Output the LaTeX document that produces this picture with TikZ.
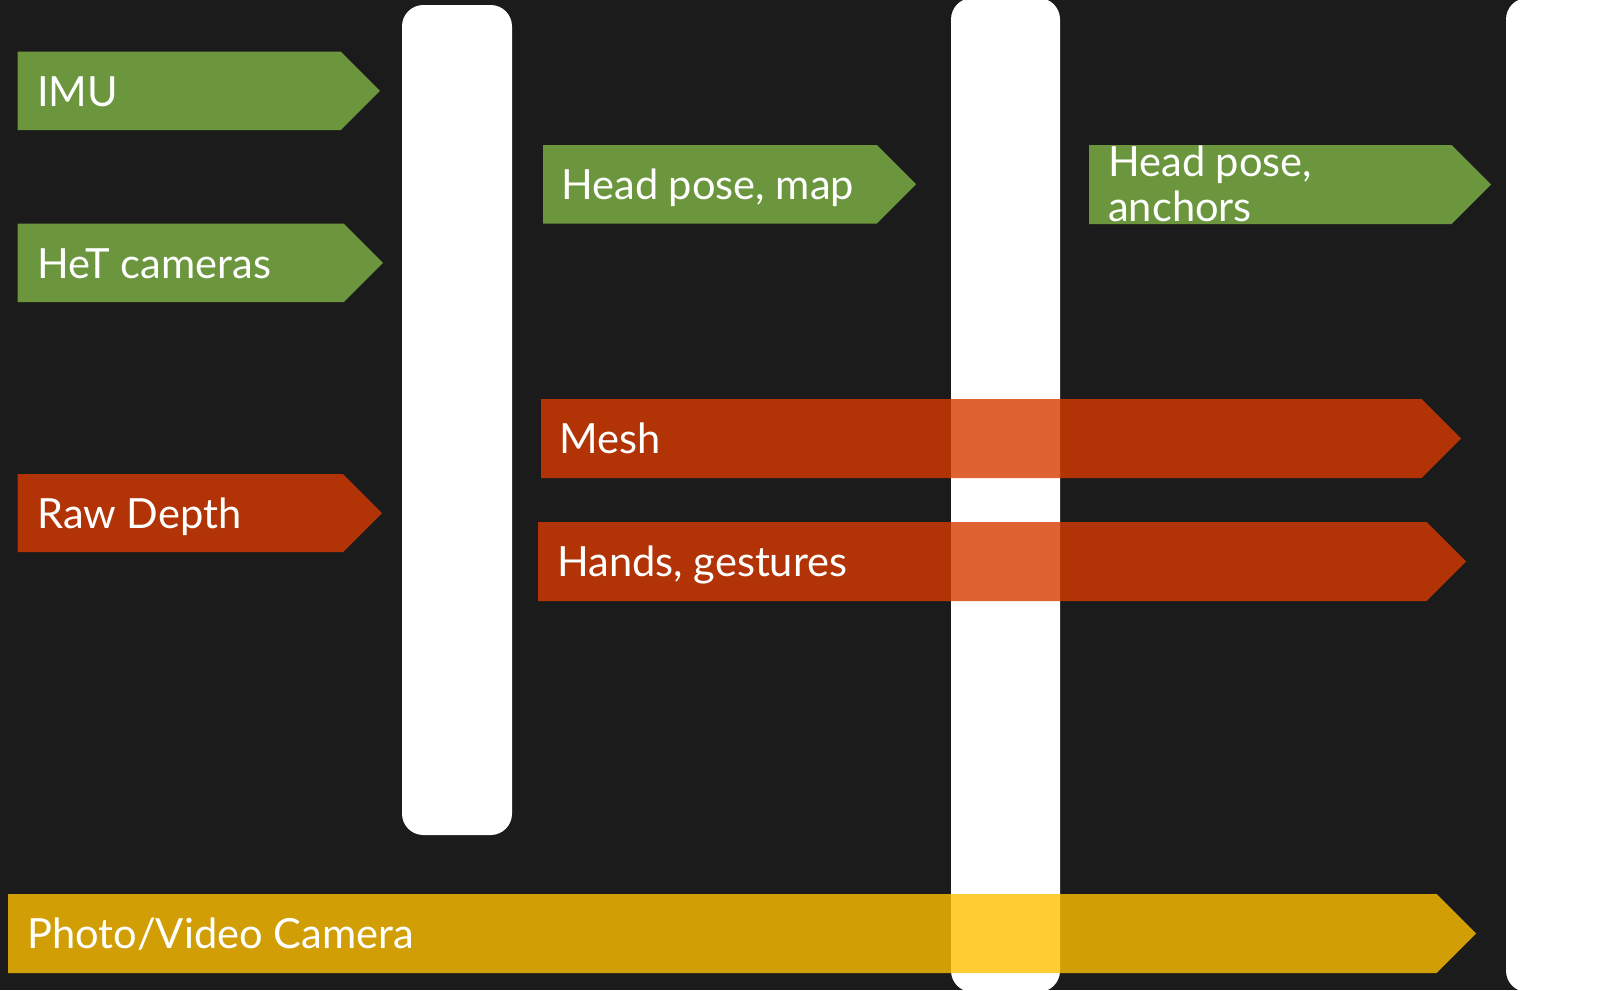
\documentclass[tikz,border=0pt]{standalone}
\usepackage{fontspec}
\setmainfont{Lato}
\usepackage{tikz}

\definecolor{slate}{HTML}{1B1B1B}
\definecolor{leafgreen}{HTML}{6B963D}
\definecolor{rust}{HTML}{D83B01}
\definecolor{amber}{HTML}{FFC000}

\tikzset{
  lbl/.style={text=white, inner sep=0pt, anchor=base west, align=left,
    font=\fontsize{31.2}{33.4}\selectfont},
  pillar/.style={fill=white, rounded corners=16},
  greenband/.style={fill=leafgreen},
  redband/.style={fill=rust, fill opacity=0.8},
  goldband/.style={fill=amber, fill opacity=0.8},
}

% band: style, left x, tip x, top y, bottom y
\newcommand{\flowband}[5]{%
  \fill[#1] (#2,#4) -- ({#3-(#5-#4)/2},#4) -- (#3,{(#4+#5)/2})
    -- ({#3-(#5-#4)/2},#5) -- (#2,#5) -- cycle;}

\begin{document}
\begin{tikzpicture}[x=0.75pt,y=-0.75pt]
% Background
\fill[slate] (0,0) rectangle (1615,990);
\useasboundingbox (0,0) rectangle (1615,990);

% Pillars
\fill[pillar] (402,5) rectangle (512,835);
\fill[pillar] (951,-2) rectangle (1060,992);
\fill[pillar] (1506,-2) rectangle (1660,992);

% Sensor bands
\flowband{greenband}{17.5}{380}{51.5}{130}
\flowband{greenband}{17.5}{383}{223.5}{302}
\flowband{redband}{17.5}{382}{474}{552}

% Output bands
\flowband{greenband}{543}{916}{145}{223.5}
\flowband{greenband}{1089}{1491}{145}{224}
\flowband{redband}{541}{1461}{399}{478}
\flowband{redband}{538}{1466}{522}{601}
\flowband{goldband}{8}{1476}{894}{973}

% Labels
\node[lbl] (imu) at (37,106) {IMU};
\node[lbl] (het) at (37,278) {HeT cameras};
\node[lbl] (rawdepth) at (37,528) {Raw Depth};
\node[lbl] (headmap) at (561,199) {Head pose, map};
\node[lbl] (headanchors) at (1108,221.5) {Head pose,\\anchors};
\node[lbl] (mesh) at (559,453) {Mesh};
\node[lbl] (hands) at (557,576) {Hands, gestures};
\node[lbl] (pvcam) at (27,948) {Photo/Video Camera};
\end{tikzpicture}
\end{document}
